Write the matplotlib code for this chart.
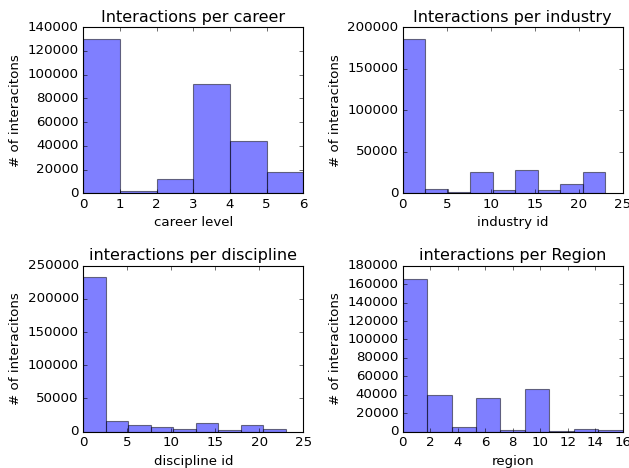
import numpy as np
import matplotlib
matplotlib.use("Agg")
import matplotlib.pyplot as plt

plt.style.use("classic")

# counts
career_edges = [0, 1, 2, 3, 4, 5, 6]
career_counts = [130000, 1700, 12100, 92400, 43900, 18300]

industry_edges = np.linspace(0, 23, 10)
industry_counts = [186000, 5600, 1600, 25300, 4400, 28100, 4400, 11200, 26100]

discipline_edges = np.linspace(0, 23, 10)
discipline_counts = [233500, 16500, 10500, 7000, 3500, 13000, 2000, 10500, 4500]

region_edges = np.linspace(0, 16, 10)
region_counts = [166000, 40000, 4700, 36700, 1400, 46000, 300, 3200, 1400]

fig = plt.figure(figsize=(629 / 80, 468 / 80), dpi=80)

panels = [
    (career_edges, career_counts, "Interactions per career", "career level", (0, 6), (0, 140000)),
    (industry_edges, industry_counts, "Interactions per industry", "industry id", (0, 25), (0, 200000)),
    (discipline_edges, discipline_counts, "interactions per discipline", "discipline id", (0, 25), (0, 250000)),
    (region_edges, region_counts, "interactions per Region", "region", (0, 16), (0, 180000)),
]
positions = [
    [0.1324, 0.587, 0.3498, 0.3547],
    [0.6402, 0.587, 0.3498, 0.3547],
    [0.1324, 0.0776, 0.3498, 0.3547],
    [0.6402, 0.0776, 0.3498, 0.3547],
]

for (edges, counts, title, xlabel, xlim, ylim), pos in zip(panels, positions):
    ax = fig.add_axes(pos)
    edges = np.asarray(edges, dtype=float)
    centers = (edges[:-1] + edges[1:]) / 2
    ax.hist(centers, bins=edges, weights=counts, color="b", alpha=0.5)
    ax.set_title(title)
    ax.set_xlabel(xlabel)
    ax.set_ylabel("# of interacitons")
    ax.set_xlim(*xlim)
    ax.set_ylim(*ylim)

fig.savefig("out.png", dpi=80)
